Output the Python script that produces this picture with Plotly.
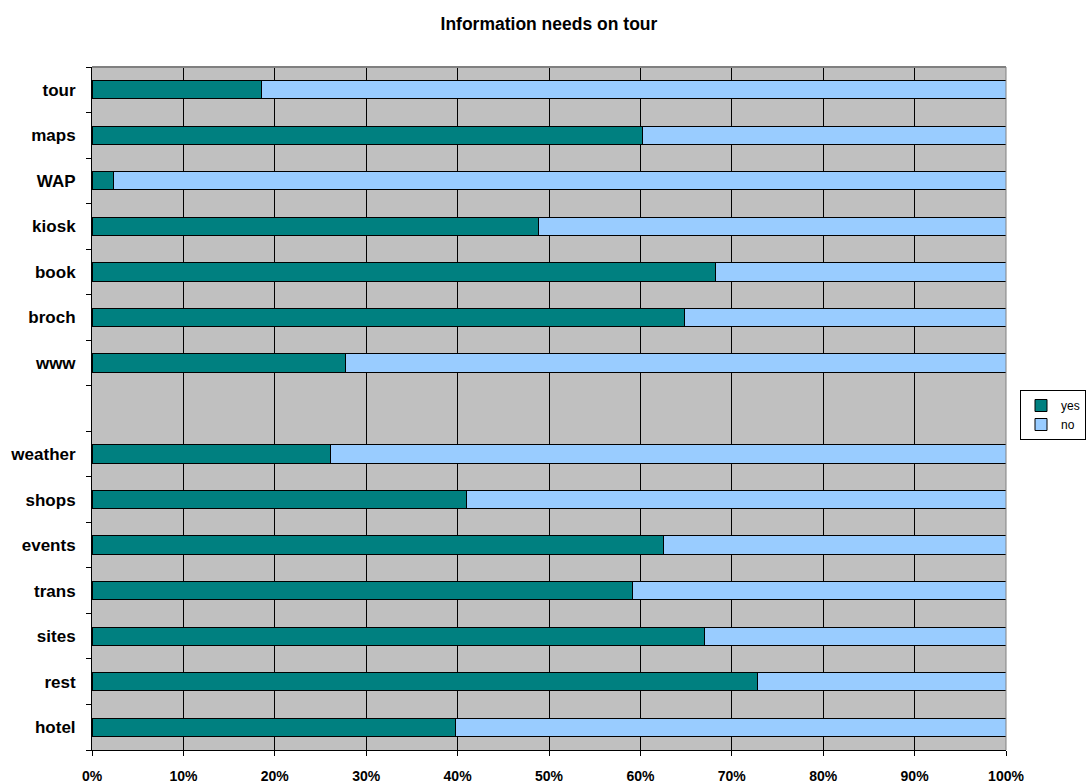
import plotly.graph_objects as go

# Categories, bottom to top (blank row separates the two groups)
categories = ["hotel", "rest", "sites", "trans", "events", "shops", "weather", " ",
              "www", "broch", "book", "kiosk", "WAP", "maps", "tour"]
yes_values = [39.8, 72.8, 67.0, 59.1, 62.5, 41.0, 26.1, None,
              27.7, 64.8, 68.2, 48.9, 2.3, 60.2, 18.5]
no_values = [60.2, 27.2, 33.0, 40.9, 37.5, 59.0, 73.9, None,
             72.3, 35.2, 31.8, 51.1, 97.7, 39.8, 81.5]
x_ticks = [0, 10, 20, 30, 40, 50, 60, 70, 80, 90, 100]
x_tick_labels = [f"{v}%" for v in x_ticks]

FONT = "Liberation Sans, Arial, sans-serif"

fig = go.Figure()
fig.add_trace(go.Bar(
    name="yes", y=categories, x=yes_values, orientation="h",
    marker=dict(color="#008080", line=dict(color="#000000", width=1)),
))
fig.add_trace(go.Bar(
    name="no", y=categories, x=no_values, orientation="h",
    marker=dict(color="#99CCFF", line=dict(color="#000000", width=1)),
))

fig.update_layout(
    width=1090, height=784,
    barmode="stack", bargap=0.6,
    paper_bgcolor="#FFFFFF", plot_bgcolor="#C0C0C0",
    margin=dict(l=92, r=84, t=67, b=34, autoexpand=False),
    title=dict(text="<b>Information needs on tour</b>", x=0.5036, xanchor="center",
               y=1 - 24 / 784, yanchor="middle", yref="container",
               font=dict(family=FONT, size=17.5, color="#000000")),
    showlegend=True,
    legend=dict(x=(1020 - 92) / 914, xanchor="left", y=1 - (390 - 67) / 683, yanchor="top",
                bgcolor="#FFFFFF", bordercolor="#000000", borderwidth=1,
                font=dict(family=FONT, size=12, color="#000000"),
                itemwidth=30, tracegroupgap=0, traceorder="normal"),
    font=dict(family=FONT, color="#000000"),
    bargroupgap=0,
)

fig.update_xaxes(
    range=[0, 100], tickmode="array", tickvals=x_ticks, ticktext=x_tick_labels,
    showgrid=True, gridcolor="#000000", gridwidth=1,
    ticks="outside", ticklen=5, tickcolor="#000000", tickwidth=1,
    showline=True, linecolor="#000000", linewidth=1,
    tickfont=dict(family=FONT, size=14, color="#000000", weight="bold"),
    ticklabelstandoff=8, zeroline=False, fixedrange=True,
)
fig.update_yaxes(
    type="category", categoryorder="array", categoryarray=categories,
    tickson="boundaries", ticks="outside", ticklen=5, tickcolor="#000000", tickwidth=1,
    showgrid=False, showline=True, linecolor="#000000", linewidth=1,
    tickfont=dict(family=FONT, size=17, color="#000000", weight="bold"),
    ticklabelstandoff=12, fixedrange=True,
)

# gray top and right frame edges of the plot area
fig.add_shape(type="line", xref="paper", yref="paper", x0=0, x1=1, y0=1, y1=1,
              line=dict(color="#808080", width=2), layer="above")
fig.add_shape(type="line", xref="paper", yref="paper", x0=1, x1=1, y0=0, y1=1,
              line=dict(color="#808080", width=1), layer="above")

fig.write_html("out.html")
